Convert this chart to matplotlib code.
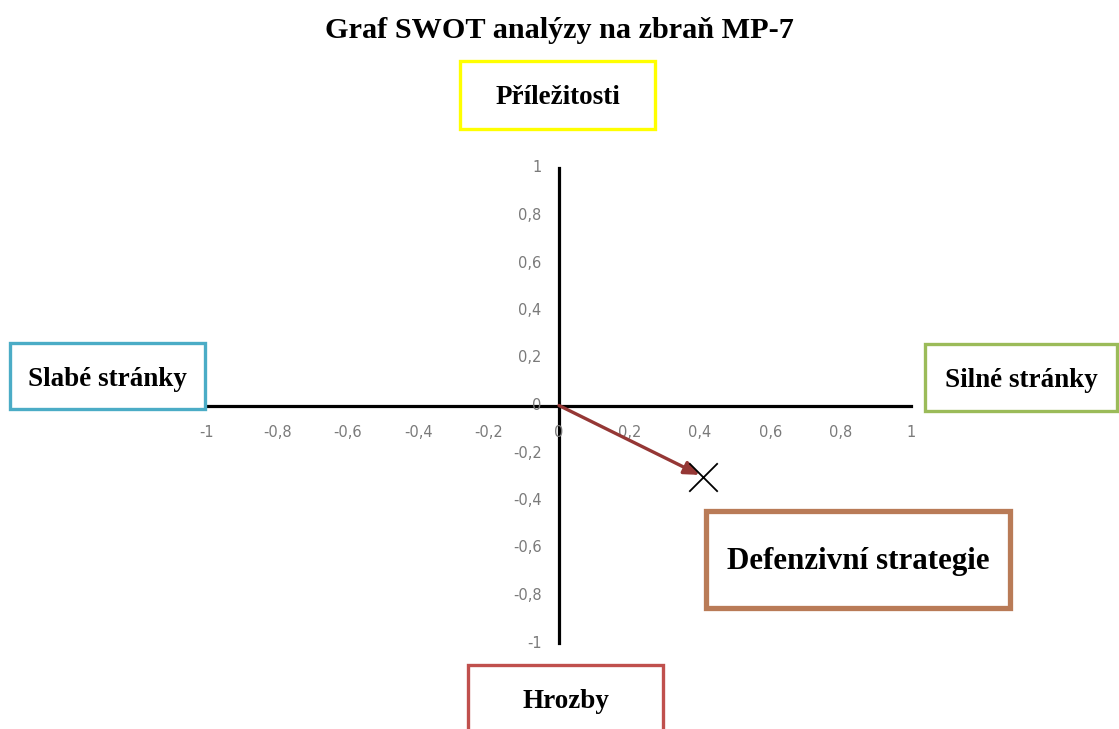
import numpy as np
import matplotlib
matplotlib.use("Agg")
import matplotlib.pyplot as plt
from matplotlib.patches import Rectangle, FancyArrowPatch

# data
point_x = [0.41]
point_y = [-0.30]
ticks = [-1, -0.8, -0.6, -0.4, -0.2, 0, 0.2, 0.4, 0.6, 0.8, 1]
tick_labels = ["-1", "-0,8", "-0,6", "-0,4", "-0,2", "0", "0,2", "0,4", "0,6", "0,8", "1"]
title = "Graf SWOT analýzy na zbraň MP-7"
quadrants = ["Příležitosti", "Slabé stránky", "Silné stránky", "Hrozby"]
strategy = "Defenzivní strategie"

W, H = 1119, 729
fig = plt.figure(figsize=(W / 100, H / 100), dpi=100)
serif = "Liberation Serif"

def fx(px):
    return px / W

def fy(py):
    return 1 - py / H

# axes placed so -1..1 spans the drawn region
ax = fig.add_axes([fx(207), fy(643), fx(911) - fx(207), fy(168) - fy(643)])
ax.set_xlim(-1, 1)
ax.set_ylim(-1, 1)
for s in ["top", "right"]:
    ax.spines[s].set_visible(False)
for s in ["left", "bottom"]:
    ax.spines[s].set_position(("data", 0))
    ax.spines[s].set_linewidth(2.3)
    ax.spines[s].set_color("black")
ax.set_xticks([])
ax.set_yticks([])

# tick labels drawn as text next to the axis lines
for t, lab in zip(ticks, tick_labels):
    ax.annotate(lab, (t, 0), xytext=(0, -19.5), textcoords="offset points",
                ha="center", va="center", fontsize=10.5, color="#7a7a7a",
                family="DejaVu Sans")
    ax.annotate(lab, (0, t), xytext=(-12.5, 0), textcoords="offset points",
                ha="right", va="center", fontsize=10.5, color="#7a7a7a",
                family="DejaVu Sans")

# arrow from origin to the point
ax.add_patch(FancyArrowPatch((0, 0), (point_x[0], point_y[0]),
                             arrowstyle="-|>,head_length=9,head_width=4",
                             color="#953735", lw=2.4, shrinkA=0, shrinkB=3,
                             zorder=3))
ax.scatter(point_x, point_y, marker="x", s=420, color="black", linewidths=1.3,
           zorder=4)

fig.text(0.5, fy(30), title, ha="center", va="center", fontsize=21.8,
         fontweight="bold", family=serif)

# quadrant boxes: (x0, y0, x1, y1) in pixels, edge colour
boxes = [
    (460, 61, 655, 129, "#ffff00"),
    (10, 343, 205, 409, "#4bacc6"),
    (925, 344, 1117, 411, "#9bbb59"),
    (468, 665, 663, 745, "#c0504d"),
]
for (x0, y0, x1, y1, c), label in zip(boxes, quadrants):
    fig.patches.append(Rectangle((fx(x0), fy(y1)), fx(x1 - x0), (y1 - y0) / H,
                                 transform=fig.transFigure, fill=False,
                                 edgecolor=c, lw=2.4))
    cy = (y0 + y1) / 2 + 3 if y1 < H else 701
    fig.text(fx((x0 + x1) / 2), fy(cy), label, ha="center", va="center",
             fontsize=19.5, fontweight="bold", family=serif)

fig.patches.append(Rectangle((fx(706), fy(608)), fx(1010 - 706), (608 - 511) / H,
                             transform=fig.transFigure, fill=False,
                             edgecolor="#b97b57", lw=3.8))
fig.text(fx(858), fy(562), strategy, ha="center", va="center", fontsize=22.3,
         fontweight="bold", family=serif)

fig.savefig("out.png", dpi=100)
